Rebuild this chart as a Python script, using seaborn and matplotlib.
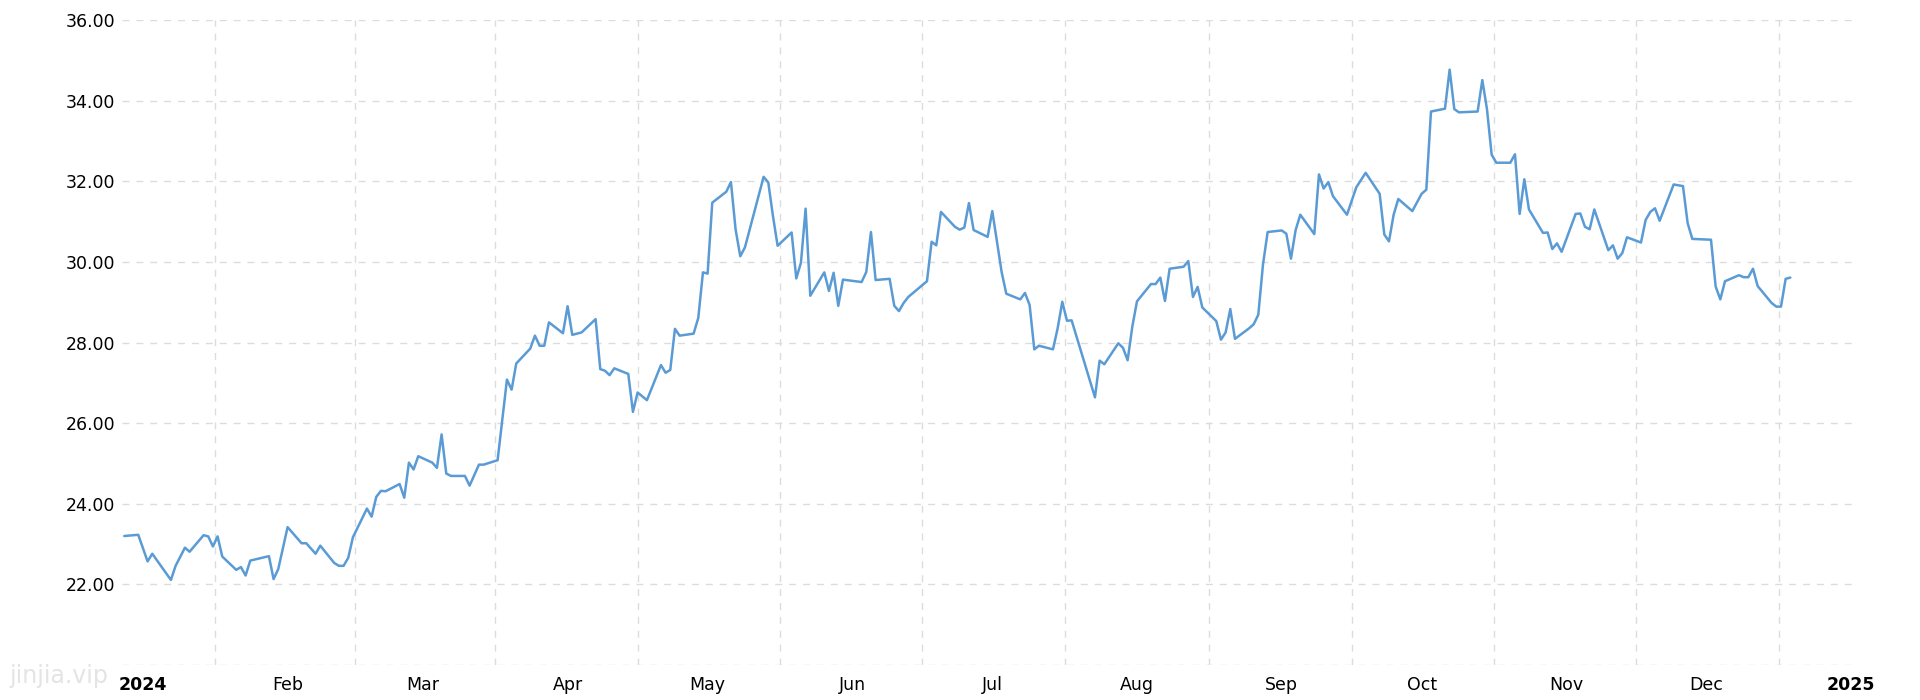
import pandas as pd
import matplotlib
matplotlib.use("Agg")
import matplotlib.pyplot as plt
import seaborn as sns

# days counted from 2024-01-01
days = [-4, -1, 1, 2, 6, 7, 9, 10, 13, 14, 15, 16, 17, 20, 21, 22, 23, 27, 28, 29,
        31, 34, 35, 37, 38, 41, 42, 43, 44, 45, 48, 49, 50, 51, 52, 55, 56, 57, 58, 59,
        62, 63, 64, 65, 66, 69, 70, 72, 73, 76, 78, 79, 80, 83, 84, 85, 86, 87, 90, 91,
        92, 94, 97, 98, 99, 100, 101, 104, 105, 106, 108, 111, 112, 113, 114, 115, 118, 119, 120, 121,
        122, 125, 126, 127, 128, 129, 133, 134, 135, 136, 139, 140, 141, 142, 143, 146, 147, 148, 149, 150,
        154, 155, 156, 157, 160, 161, 162, 163, 164, 167, 168, 169, 170, 171, 174, 175, 176, 177, 178, 181,
        182, 184, 185, 188, 189, 190, 191, 192, 195, 196, 197, 198, 199, 204, 205, 206, 209, 210, 211, 212,
        213, 216, 217, 218, 219, 220, 223, 224, 225, 226, 227, 230, 231, 232, 233, 234, 237, 238, 239, 240,
        241, 244, 245, 246, 247, 248, 251, 252, 253, 254, 255, 258, 260, 262, 265, 266, 267, 268, 269, 272,
        274, 275, 276, 279, 280, 281, 282, 286, 287, 288, 289, 290, 293, 294, 295, 296, 297, 300, 301, 302,
        303, 304, 307, 308, 309, 310, 311, 314, 315, 316, 317, 318, 321, 322, 323, 324, 325, 328, 330, 331,
        332, 336, 337, 338, 339, 342, 343, 344, 345, 346, 349, 350, 351, 352, 353]

prices = [23.20, 23.23, 22.57, 22.76, 22.11, 22.46, 22.91, 22.81, 23.22, 23.19, 22.94, 23.19, 22.69, 22.36, 22.43, 22.22, 22.59, 22.70, 22.13, 22.38,
          23.42, 23.02, 23.02, 22.76, 22.96, 22.53, 22.46, 22.46, 22.66, 23.17, 23.88, 23.68, 24.17, 24.32, 24.31, 24.49, 24.15, 25.02, 24.85, 25.18,
          25.02, 24.89, 25.72, 24.75, 24.69, 24.69, 24.45, 24.97, 24.97, 25.08, 27.08, 26.83, 27.48, 27.85, 28.17, 27.92, 27.92, 28.50, 28.23, 28.90,
          28.19, 28.25, 28.58, 27.34, 27.30, 27.19, 27.36, 27.22, 26.28, 26.76, 26.57, 27.44, 27.25, 27.32, 28.34, 28.17, 28.22, 28.61, 29.74, 29.71,
          31.47, 31.74, 31.98, 30.80, 30.14, 30.36, 32.11, 31.97, 31.14, 30.40, 30.73, 29.59, 29.98, 31.32, 29.16, 29.74, 29.28, 29.73, 28.91, 29.56,
          29.50, 29.75, 30.74, 29.55, 29.58, 28.91, 28.78, 28.98, 29.13, 29.42, 29.52, 30.50, 30.41, 31.24, 30.87, 30.80, 30.85, 31.46, 30.79, 30.62,
          31.26, 29.75, 29.21, 29.07, 29.23, 28.93, 27.83, 27.92, 27.83, 28.35, 29.01, 28.54, 28.55, 26.64, 27.55, 27.46, 27.98, 27.87, 27.56, 28.39,
          29.02, 29.45, 29.45, 29.61, 29.03, 29.83, 29.88, 30.02, 29.13, 29.38, 28.87, 28.53, 28.07, 28.25, 28.83, 28.09, 28.35, 28.45, 28.69, 29.93,
          30.74, 30.78, 30.70, 30.08, 30.79, 31.17, 30.69, 32.17, 31.82, 31.98, 31.63, 31.17, 31.85, 32.21, 31.69, 30.68, 30.51, 31.17, 31.56, 31.26,
          31.69, 31.79, 33.73, 33.80, 34.77, 33.79, 33.71, 33.73, 34.51, 33.79, 32.66, 32.46, 32.46, 32.67, 31.19, 32.05, 31.30, 30.72, 30.73, 30.32,
          30.46, 30.25, 31.19, 31.20, 30.87, 30.81, 31.30, 30.29, 30.41, 30.08, 30.22, 30.61, 30.48, 31.04, 31.24, 31.33, 31.02, 31.92, 31.88, 30.96,
          30.57, 30.55, 29.39, 29.07, 29.52, 29.67, 29.62, 29.62, 29.83, 29.40, 28.98, 28.89, 28.89, 29.58, 29.61]

month_labels = ["2024", "Feb", "Mar", "Apr", "May", "Jun", "Jul", "Aug", "Sep", "Oct", "Nov", "Dec", "2025"]
y_ticks = [20, 22, 24, 26, 28, 30, 32, 34, 36]
y_labels = ["", "22.00", "24.00", "26.00", "28.00", "30.00", "32.00", "34.00", "36.00"]

start = pd.Timestamp("2024-01-01")
df = pd.DataFrame({"date": start + pd.to_timedelta(days, unit="D"), "price": prices})

sns.set_style("white")
plt.rcParams["font.family"] = ["DejaVu Sans"]

fig = plt.figure(figsize=(19.2, 7), dpi=100)
ax = fig.add_axes([0.0635, 0.05, 0.904, 0.9214])

sns.lineplot(data=df, x="date", y="price", ax=ax, color="#5a9bd5", linewidth=1.8)

# month starts carry the labels, month middles carry the vertical grid
month_starts = pd.date_range("2024-01-01", "2025-01-01", freq="MS")
month_mids = [a + (b - a) / 2 for a, b in zip(month_starts[:-1], month_starts[1:])]
ax.set_xticks(month_starts)
ax.set_xticklabels(month_labels)
for lbl in ax.get_xticklabels():
    if lbl.get_text() in ("2024", "2025"):
        lbl.set_fontweight("bold")
ax.set_xticks(month_mids, minor=True)

ax.set_xlim(pd.Timestamp("2023-12-27 12:00"), pd.Timestamp("2025-01-02 10:00"))
ax.set_ylim(20, 36)
ax.set_yticks(y_ticks)
ax.set_yticklabels(y_labels)

ax.grid(False)
ax.grid(axis="y", which="major", color="#dcdcdc", linestyle=(0, (5, 5)), linewidth=1)
ax.grid(axis="x", which="minor", color="#dcdcdc", linestyle=(0, (5, 5)), linewidth=1)
ax.tick_params(axis="both", which="both", length=0, labelsize=12.5, colors="black")
ax.tick_params(axis="x", pad=8)
ax.tick_params(axis="y", pad=5)
for s in ax.spines.values():
    s.set_visible(False)
ax.set_xlabel("")
ax.set_ylabel("")

fig.text(0.005, 0.025, "jinjia.vip", color="#e4e4e4", fontsize=17)

fig.savefig("out.png", dpi=100)
